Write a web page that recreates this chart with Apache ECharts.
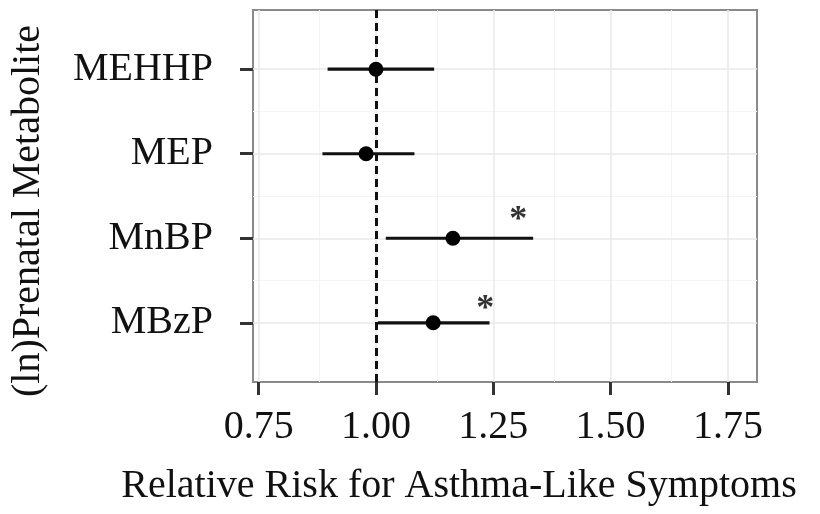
<!DOCTYPE html>
<html>
<head>
<meta charset="utf-8">
<script src="https://cdn.jsdelivr.net/npm/echarts@6/dist/echarts.min.js"></script>
<style>
  html, body { margin: 0; padding: 0; background: #fff; }
  #chart { width: 820px; height: 514px; }
</style>
</head>
<body>
<div id="chart"></div>
<script>
var chart = echarts.init(document.getElementById('chart'));

// 代谢物（从上到下）
var metabolites = ['MEHHP', 'MEP', 'MnBP', 'MBzP'];
var rr = [1.00, 0.979, 1.164, 1.122];
var lower = [0.897, 0.886, 1.021, 1.004];
var upper = [1.124, 1.082, 1.335, 1.242];
// 显著性星号位置 (x, 行)
var starX = [null, null, 1.303, 1.233];
var starRow = [null, null, 2.79, 3.84];

var xTicks = [0.75, 1.00, 1.25, 1.50, 1.75];
var xMinor = [0.875, 1.125, 1.375, 1.625];
var yTicks = [1, 2, 3, 4];
var yMinor = [1.5, 2.5, 3.5];

var serif = 'Liberation Serif';

var barData = metabolites.map(function (m, i) { return [lower[i], upper[i], i + 1]; });
var pointData = metabolites.map(function (m, i) { return [rr[i], i + 1]; });
var starData = [];
starX.forEach(function (x, i) {
    if (x !== null) starData.push([x, starRow[i]]);
});

// 网格线
var gridLines = [];
xMinor.forEach(function (v) { gridLines.push({ xAxis: v, lineStyle: { color: '#f4f4f4', width: 1, type: 'solid' } }); });
yMinor.forEach(function (v) { gridLines.push({ yAxis: v, lineStyle: { color: '#f4f4f4', width: 1, type: 'solid' } }); });
xTicks.forEach(function (v) { gridLines.push({ xAxis: v, lineStyle: { color: '#e8e8e8', width: 1.5, type: 'solid' } }); });
yTicks.forEach(function (v) { gridLines.push({ yAxis: v, lineStyle: { color: '#e8e8e8', width: 1.5, type: 'solid' } }); });

var option = {
    backgroundColor: '#fff',
    animation: false,
    grid: {
        left: 253, top: 10, right: 63, bottom: 132,
        outerBoundsMode: 'none',
        containLabel: false,
        show: true,
        borderColor: '#8a8a8a',
        borderWidth: 2,
        backgroundColor: '#fff'
    },
    xAxis: {
        type: 'value',
        min: 0.738,
        max: 1.812,
        name: 'Relative Risk for Asthma-Like Symptoms',
        nameLocation: 'middle',
        nameGap: 84,
        nameTextStyle: { fontFamily: serif, fontSize: 40, color: '#111', padding: [0, 92, 0, 0] },
        axisLine: { show: false },
        axisTick: { show: true, customValues: xTicks, length: 13, lineStyle: { color: '#333', width: 3 } },
        axisLabel: {
            customValues: xTicks,
            margin: 25,
            fontFamily: serif, fontSize: 40, color: '#111',
            formatter: function (v) { return v.toFixed(2); }
        },
        splitLine: { show: false }
    },
    yAxis: {
        type: 'value',
        inverse: true,
        min: 0.3,
        max: 4.7,
        name: '(ln)Prenatal Metabolite',
        nameLocation: 'middle',
        nameRotate: 90,
        nameGap: 205,
        nameTextStyle: { fontFamily: serif, fontSize: 40, color: '#111', padding: [0, 30, 0, 0] },
        axisLine: { show: false },
        axisTick: { show: true, customValues: yTicks, length: 13, lineStyle: { color: '#333', width: 3 } },
        axisLabel: {
            customValues: yTicks,
            margin: 40,
            fontFamily: serif, fontSize: 40, color: '#111',
            formatter: function (v) { return metabolites[Math.round(v) - 1] || ''; }
        },
        splitLine: { show: false }
    },
    series: [
        {
            name: 'grid',
            type: 'scatter',
            data: [],
            z: 1,
            silent: true,
            markLine: {
                silent: true,
                z: 1,
                symbol: 'none',
                animation: false,
                label: { show: false },
                data: gridLines
            }
        },
        {
            name: 'ref',
            type: 'scatter',
            data: [],
            z: 2,
            silent: true,
            markLine: {
                silent: true,
                z: 2,
                symbol: 'none',
                animation: false,
                label: { show: false },
                lineStyle: { color: '#111', width: 3, type: [8, 5] },
                data: [{ xAxis: 1 }]
            }
        },
        {
            name: 'CI',
            type: 'custom',
            z: 3,
            data: barData,
            encode: { x: [0, 1], y: 2 },
            renderItem: function (params, api) {
                var p1 = api.coord([api.value(0), api.value(2)]);
                var p2 = api.coord([api.value(1), api.value(2)]);
                return {
                    type: 'line',
                    shape: { x1: p1[0], y1: p1[1], x2: p2[0], y2: p2[1] },
                    style: { stroke: '#111', lineWidth: 3.2 }
                };
            }
        },
        {
            name: 'RR',
            type: 'scatter',
            z: 4,
            data: pointData,
            symbol: 'circle',
            symbolSize: 15,
            itemStyle: { color: '#000', opacity: 1 }
        },
        {
            name: 'sig',
            type: 'scatter',
            z: 5,
            data: starData,
            symbolSize: 0,
            label: {
                show: true,
                position: 'inside',
                formatter: '*',
                fontFamily: serif,
                fontWeight: 'bold',
                fontSize: 36,
                color: '#000'
            }
        }
    ]
};

chart.setOption(option);
</script>
</body>
</html>
